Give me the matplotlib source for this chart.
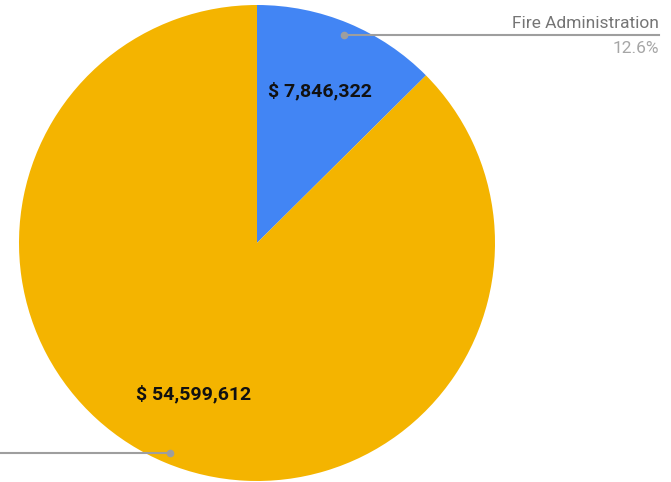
import numpy as np
import matplotlib.pyplot as plt

plt.rcParams['font.family'] = ['Roboto', 'DejaVu Sans']

categories = ["Fire Administration", "Fire Suppression"]
values = [7846322, 54599612]
colors = ["#4285F4", "#F4B400"]

W, H = 671, 482
fig = plt.figure(figsize=(W / 100, H / 100), dpi=100)
ax = fig.add_axes([0, 0, 1, 1])
ax.set_aspect('equal')
ax.axis('off')

cx, cy, r = 257, 239, 238

wedges, texts, autotexts = ax.pie(
    values, colors=colors, center=(cx, cy), radius=r,
    startangle=90, counterclock=False,
    autopct=lambda p: "$ {:,}".format(int(round(p * sum(values) / 100))),
    pctdistance=0.69,
    textprops=dict(fontsize=14, fontweight='bold', color='#111111'),
    wedgeprops=dict(linewidth=0),
)
ax.set_xlim(0, W)
ax.set_ylim(0, H)

# leader lines with a dot inside each slice
total = sum(values)
for w, name, v in zip(wedges, categories, values):
    mid = np.deg2rad((w.theta1 + w.theta2) / 2)
    px = cx + 0.95 * r * np.cos(mid)
    py = cy + 0.95 * r * np.sin(mid) - 1
    ax.plot(px, py, 'o', color='#9e9e9e', markersize=4.5, zorder=5)
    if np.cos(mid) >= 0:
        end = 659
        ax.plot([px, end], [py, py], color='#9e9e9e', lw=1.5, zorder=4)
        ax.text(end, py + 4, name, ha='right', va='bottom', fontsize=12.5, color='#757575')
        ax.text(end, py - 6, "{:.1%}".format(v / total), ha='right', va='top',
                fontsize=12.5, color='#a6a6a6')
    else:
        ax.plot([px, 0], [py, py], color='#9e9e9e', lw=1.5, zorder=4)

fig.savefig("out.png", dpi=100)
